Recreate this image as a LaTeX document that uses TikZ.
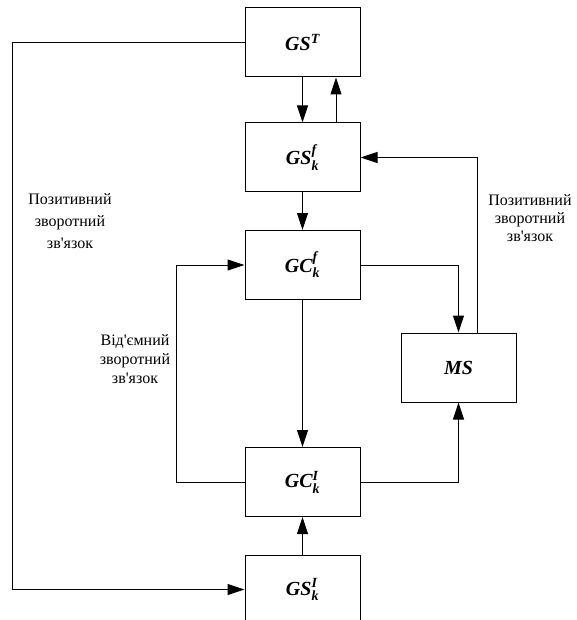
\documentclass[tikz,border=0pt]{standalone}
\usepackage{amsmath}
\usepackage{fontspec}
\setmainfont{Liberation Serif}[Ligatures=TeXOff]
\usetikzlibrary{arrows.meta}
\newcommand{\bi}[1]{\text{\bfseries\itshape #1}}

\begin{document}
\begin{tikzpicture}[x=1pt, y=-1pt, line width=1pt,
    >={Triangle[length=17pt, width=11pt]},
    block/.style={draw, minimum width=115pt, minimum height=69pt, inner sep=0pt,
        font=\fontsize{20}{24}\selectfont},
    note/.style={align=center, font=\fontsize{16}{#1}\selectfont},
    note/.default=19]
    \clip (0,0) rectangle (576,620);
    % Blocks
    \node[block] (gst) at (302.5, 42.5) {\bi{GS}$^{\bi{T}}$};
    \node[block] (gsf) at (302.5, 157.5) {\bi{GS}$^{\bi{f}}_{\bi{k}}$};
    \node[block] (gcf) at (302.5, 265) {\bi{GC}$^{\bi{f}}_{\bi{k}}$};
    \node[block] (gci) at (302.5, 482) {\bi{GC}$^{\bi{I}}_{\bi{k}}$};
    \node[block] (gsi) at (302.5, 589.5) {\bi{GS}$^{\bi{I}}_{\bi{k}}$};
    \node[block] (ms) at (458.5, 367.5) {\bi{MS}};
    % Main column
    \draw[->] (gst) -- (gsf);
    \draw[->] ([xshift=33.5pt]gsf.north) -- ([xshift=33.5pt]gst.south);
    \foreach \a/\b in {gsf/gcf, gcf/gci, gsi/gci} {
        \draw[->] (\a) -- (\b);
    }
    % Into MS
    \draw[->] (gcf.east) -| (ms.north);
    \draw[->] (gci.east) -| (ms.south);
    % Positive feedback, right
    \draw[->] ([xshift=18.5pt]ms.north) |- (gsf.east);
    % Negative feedback
    \draw[->] (gci.west) -- ++(-68,0) |- (gcf.west);
    % Positive feedback, left
    \draw[->] (gst.west) -- ++(-232,0) |- (gsi.west);
    % Labels
    \node[note=22] (posl) at (70, 221) {Позитивний\\зворотний\\зв'язок};
    \node[note=18] (posr) at (530, 218) {Позитивний\\зворотний\\зв'язок};
    \node[note] (neg) at (135, 359) {Від'ємний\\зворотний\\зв'язок};
\end{tikzpicture}
\end{document}
